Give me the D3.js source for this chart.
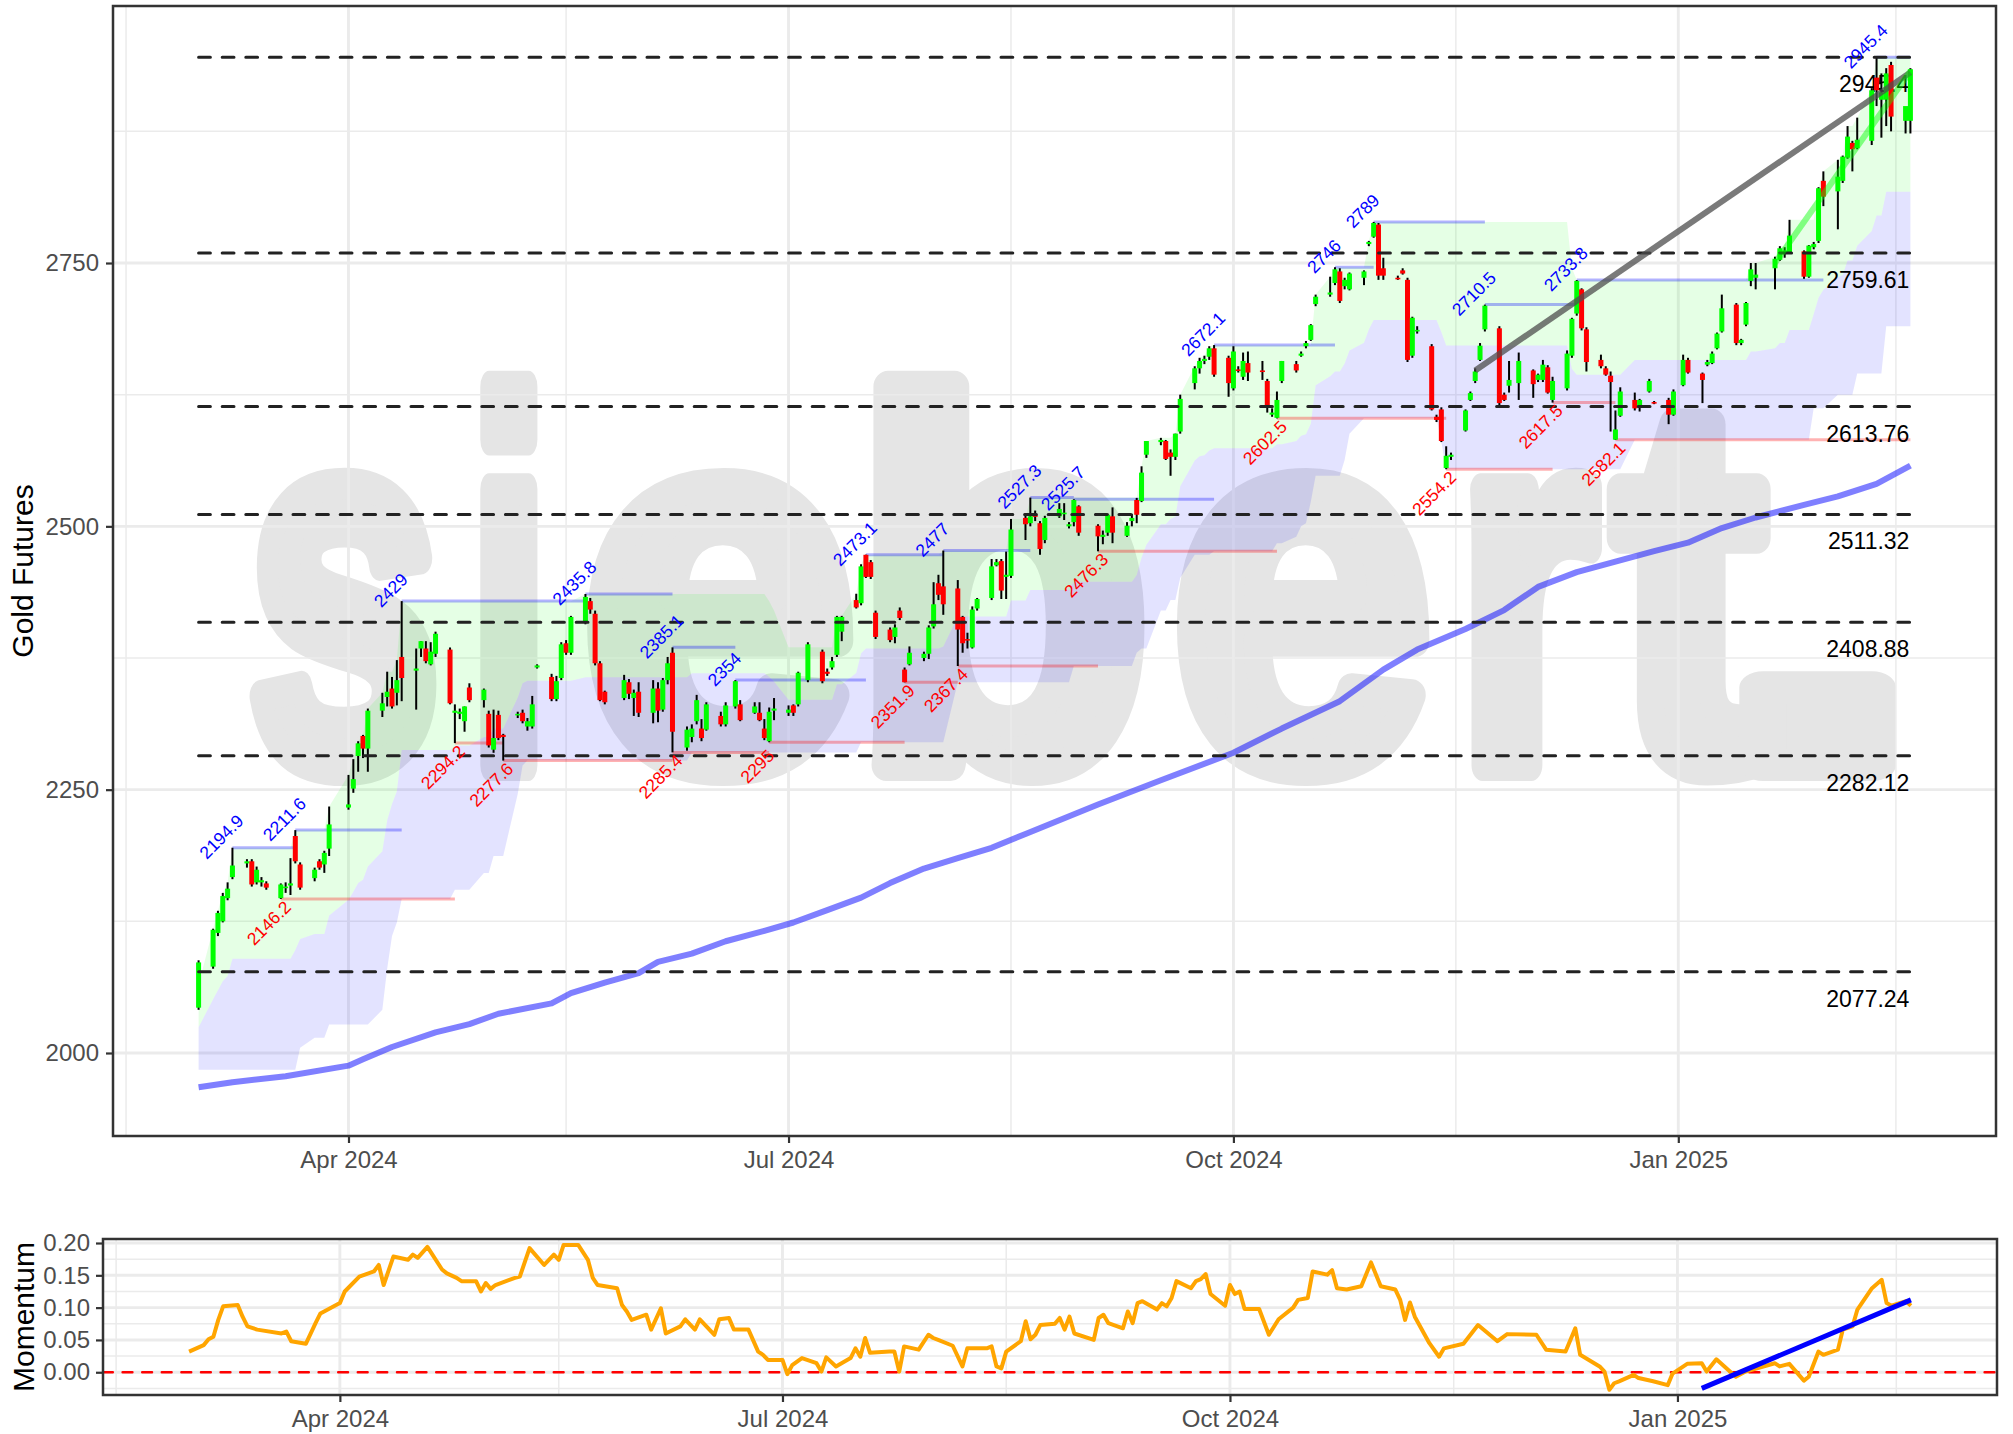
<!DOCTYPE html>
<html>
<head>
<meta charset="utf-8">
<script src="https://cdn.jsdelivr.net/npm/d3@7"></script>
<style>
  body { margin: 0; background: #ffffff; }
</style>
</head>
<body>
<svg id="chart"></svg>
<script>
// ---- candles (daily OHLC) ----
const dates = [
  '2024-03-01','2024-03-04','2024-03-05','2024-03-06','2024-03-07','2024-03-08','2024-03-11','2024-03-12','2024-03-13','2024-03-14','2024-03-15','2024-03-18','2024-03-19','2024-03-20','2024-03-21','2024-03-22','2024-03-25','2024-03-26','2024-03-27','2024-03-28',
  '2024-04-01','2024-04-02','2024-04-03','2024-04-04','2024-04-05','2024-04-08','2024-04-09','2024-04-10','2024-04-11','2024-04-12','2024-04-15','2024-04-16','2024-04-17','2024-04-18','2024-04-19','2024-04-22','2024-04-23','2024-04-24','2024-04-25','2024-04-26','2024-04-29','2024-04-30',
  '2024-05-01','2024-05-02','2024-05-03','2024-05-06','2024-05-07','2024-05-08','2024-05-09','2024-05-10','2024-05-13','2024-05-14','2024-05-15','2024-05-16','2024-05-17','2024-05-20','2024-05-21','2024-05-22','2024-05-23','2024-05-24','2024-05-28','2024-05-29','2024-05-30','2024-05-31',
  '2024-06-03','2024-06-04','2024-06-05','2024-06-06','2024-06-07','2024-06-10','2024-06-11','2024-06-12','2024-06-13','2024-06-14','2024-06-17','2024-06-18','2024-06-20','2024-06-21','2024-06-24','2024-06-25','2024-06-26','2024-06-27','2024-06-28',
  '2024-07-01','2024-07-02','2024-07-03','2024-07-05','2024-07-08','2024-07-09','2024-07-10','2024-07-11','2024-07-12','2024-07-15','2024-07-16','2024-07-17','2024-07-18','2024-07-19','2024-07-22','2024-07-23','2024-07-24','2024-07-25','2024-07-26','2024-07-29','2024-07-30','2024-07-31',
  '2024-08-01','2024-08-02','2024-08-05','2024-08-06','2024-08-07','2024-08-08','2024-08-09','2024-08-12','2024-08-13','2024-08-14','2024-08-15','2024-08-16','2024-08-19','2024-08-20','2024-08-21','2024-08-22','2024-08-23','2024-08-26','2024-08-27','2024-08-28','2024-08-29','2024-08-30',
  '2024-09-03','2024-09-04','2024-09-05','2024-09-06','2024-09-09','2024-09-10','2024-09-11','2024-09-12','2024-09-13','2024-09-16','2024-09-17','2024-09-18','2024-09-19','2024-09-20','2024-09-23','2024-09-24','2024-09-25','2024-09-26','2024-09-27','2024-09-30',
  '2024-10-01','2024-10-02','2024-10-03','2024-10-04','2024-10-07','2024-10-08','2024-10-09','2024-10-10','2024-10-11','2024-10-14','2024-10-15','2024-10-16','2024-10-17','2024-10-18','2024-10-21','2024-10-22','2024-10-23','2024-10-24','2024-10-25','2024-10-28','2024-10-29','2024-10-30','2024-10-31',
  '2024-11-01','2024-11-04','2024-11-05','2024-11-06','2024-11-07','2024-11-08','2024-11-11','2024-11-12','2024-11-13','2024-11-14','2024-11-15','2024-11-18','2024-11-19','2024-11-20','2024-11-21','2024-11-22','2024-11-25','2024-11-26','2024-11-27','2024-11-29',
  '2024-12-02','2024-12-03','2024-12-04','2024-12-05','2024-12-06','2024-12-09','2024-12-10','2024-12-11','2024-12-12','2024-12-13','2024-12-16','2024-12-17','2024-12-18','2024-12-19','2024-12-20','2024-12-23','2024-12-24','2024-12-26','2024-12-27','2024-12-30','2024-12-31',
  '2025-01-02','2025-01-03','2025-01-06','2025-01-07','2025-01-08','2025-01-09','2025-01-10','2025-01-13','2025-01-14','2025-01-15','2025-01-16','2025-01-17','2025-01-21','2025-01-22','2025-01-23','2025-01-24','2025-01-27','2025-01-28','2025-01-29','2025-01-30','2025-01-31',
  '2025-02-03','2025-02-04','2025-02-05','2025-02-06','2025-02-07','2025-02-10','2025-02-11','2025-02-12','2025-02-13','2025-02-14','2025-02-17','2025-02-18'
];
const opens = [
  2043,2082,2114,2125,2147,2167,2180,2182,2162,2162,2161,2147,2157,2159,2206,2179,2166,2182,2179,2194,
  2233,2251,2282,2301,2289,2325,2338,2346,2342,2376,2363,2384,2384,2369,2379,2383,2323,2322,2315,2347,2335,2322,
  2288,2321,2302,2321,2323,2310,2310,2366,2357,2336,2356,2389,2380,2410,2429,2417,2370,2343,2337,2352,2337,2343,
  2323,2346,2326,2354,2380,2290,2300,2315,2308,2307,2320,2312,2329,2331,2323,2323,2308,2296,2325,
  2323,2330,2331,2354,2381,2362,2366,2378,2400,2430,2427,2473,2466,2418,2402,2395,2420,2364,2369,2375,2379,2405,
  2446,2443,2441,2414,2393,2385,2422,2432,2463,2467,2452,2453,2508,2503,2511,2503,2487,2509.5,2512,2500,2504,2519,
  2500.6,2490,2494,2509.5,2491,2505,2525,2524,2568,2580,2581,2570,2566,2590,2636,2650,2657,2661,2669,2660,
  2631,2649,2642,2655,2648,2638,2606,2603,2638,2654,2662,2671,2677,2711,2720,2731,2742,2728,2725,2736,2768,2775,2786.5,
  2745,2736,2743,2734,2662,2686,2671,2604,2611,2555.3,2566,2591,2620,2638,2658,2687,2688,2625,2633.5,2636,
  2648,2639,2639,2651,2620,2631,2662,2702,2725,2687,2658,2650,2643,2582.3,2605,2620,2614,2628,2618,2620,2606,
  2634,2658,2645,2653.5,2655,2669,2685,2710.5,2674,2691.5,2733,2736,2745,2753,2760,2760,2761,2737,2765,2771,2828,
  2818,2828,2850,2864,2859,2866,2926,2905,2905,2938,2885,2885
];
const highs = [
  2088,2118,2135,2152,2162,2194.9,2184,2184,2177,2167,2163,2161,2162,2185,2211.6,2181,2176,2184,2192,2234,
  2264,2279,2296,2302,2327,2342,2362,2357,2373,2429,2384,2391,2391,2390,2400,2385,2331,2327,2329,2351,2346,2325,
  2326,2325,2303,2324,2326,2318,2339,2369,2360,2358,2390,2392,2415,2435.8,2432,2420,2372,2344,2359,2355,2345,2352,
  2354,2352,2356,2376,2385.1,2310,2312,2340,2317,2333,2324,2333,2354,2335,2333,2333,2317,2328,2337,
  2330,2331,2362,2390,2383,2365,2376,2415,2415,2436,2464,2473.1,2468,2420,2404,2407,2423,2366,2386,2381,2406,2447,
  2454,2477,2449,2415,2399,2424,2432,2469,2469,2469,2476,2507,2510,2527.3,2515,2505,2510,2522,2522,2504,2525.7,2520,
  2502,2496,2512,2518,2504,2512,2527,2557,2581,2584,2582,2573,2588,2625,2652,2660,2662,2671,2672.1,2662,
  2671,2652,2665,2666,2657,2640,2612,2628,2657,2657,2666,2676,2692,2720,2737,2746,2745,2736,2741,2743,2771,2789,2788,
  2755,2738,2745,2736,2699,2690,2673,2606,2613,2576,2570,2611,2628,2650,2674,2710.5,2690,2627,2657,2665,
  2649,2645,2658,2653,2642,2667,2698,2733.8,2726,2689,2663,2652,2647,2610,2632,2627,2621,2640,2619,2622,2630,
  2663,2660,2646,2658,2666,2684,2720,2712,2678,2713,2750,2750,2756,2766,2765,2791,2762,2767,2770,2822,2837,
  2848,2852,2880,2866,2888,2916,2945.4,2930,2935,2941,2896,2935
];
const lows = [
  2041,2080,2111,2124,2145,2165,2176,2158,2160,2158,2155,2146.2,2152,2150,2180,2155,2163,2174,2171,2187,
  2231,2247,2267,2280,2267,2319,2329,2327,2330,2334,2326,2376,2370,2368,2376,2331,2294.2,2317,2305,2333,2328,2290,
  2285,2297,2277.6,2318,2313,2306,2308,2365,2334,2334,2354,2378,2378,2407,2417,2368,2334,2331,2335,2336,2320,2319,
  2313,2314,2324,2350,2285.4,2287,2295,2312,2296,2306,2310,2310,2327,2315,2322,2315,2297,2295,2316,
  2320,2320,2329,2352,2351,2358,2364,2376,2391,2422,2425,2451,2450,2393,2390,2389,2411,2351.9,2368,2372,2374,2403,
  2430,2416,2367.4,2380,2384,2384,2420,2430,2462,2431,2431,2451,2487,2500,2505,2473,2484,2508,2506,2498,2500,2491,
  2476.3,2483,2491,2484,2490,2500,2503,2523,2565,2577,2563,2548,2563,2588,2630,2645,2654,2658,2642,2623,
  2629,2646,2639,2638,2639,2608,2604,2602.5,2636,2646,2661,2669,2676,2709,2718,2729,2712,2725,2724,2729,2766,2774,2734,
  2734,2734,2739,2656,2660,2683,2610,2599,2580,2554.2,2563,2590,2619,2636,2657,2685,2615,2619,2627,2620,
  2622,2637,2637,2626,2617.5,2629,2660,2700,2686,2647,2650,2643,2590,2582.1,2604,2610,2609,2627,2616,2597,2605,
  2633,2645,2617,2652,2654,2668,2684,2672,2672,2690,2728,2725,2725,2752,2755,2759,2735,2736,2763,2769,2804,
  2782,2826,2849,2837,2858,2862,2899,2869,2880,2875,2873,2873
];
const closes = [
  2086,2117,2133,2149,2156,2178,2182,2160,2174,2164,2157,2160,2158,2161,2182,2157,2174,2176,2190,2217,
  2236,2260,2294,2289,2325,2332,2343,2329,2354,2356,2365,2391,2372,2381,2398,2332,2325,2324,2329,2335,2345,2292,
  2299,2299,2300,2322,2315,2315,2331,2368,2336,2353,2388,2380,2414,2433,2421,2370,2335,2333,2354,2341,2342,2323,
  2346,2325,2354,2370,2305,2307,2308,2335,2299,2331,2312,2330,2353,2316,2329,2316,2299,2324,2327,
  2326,2323,2361,2388,2353,2360,2372,2414,2414,2423,2462,2452,2452,2395,2392,2404,2413,2352,2380,2379,2404,2426,
  2435,2426,2402,2389,2392,2421,2431,2462,2466,2439,2454,2497,2502,2509.5,2509,2478.5,2508,2516.5,2513,2502,2525,2494,
  2490.5,2492,2511,2494,2500.6,2508,2511,2551,2581,2582,2564,2566,2588,2621,2650,2657,2659,2669,2644,2636,
  2666,2648,2657,2646,2647,2614,2608,2620,2657,2648,2664,2674,2691,2718,2722,2744,2714,2734,2740,2742,2770,2788,2738,
  2738,2735,2740,2658,2698,2686.5,2611,2601,2581,2567,2568,2610,2626.5,2647,2671.5,2709.5,2617,2620,2639,2657,
  2635,2644,2653.5,2627,2638,2664,2697,2733,2688,2656,2652,2644,2637,2592,2628,2612,2620,2638,2617,2606,2628,
  2658,2646,2639,2656,2664,2683,2707,2674,2677,2712,2744,2739,2754,2764,2762,2776,2737,2766.5,2768,2821,2813,
  2832,2851,2870,2858,2867,2914,2914,2912,2930,2889,2899,2934
];

// ---- channel cloud (values hold from each date until the next one) ----
const cloudDates = ['2024-03-01','2024-03-04','2024-03-05','2024-03-06','2024-03-07','2024-03-08','2024-03-21','2024-03-22','2024-03-25','2024-03-28',
  '2024-04-01','2024-04-02','2024-04-03','2024-04-04','2024-04-05','2024-04-08','2024-04-09','2024-04-10','2024-04-11','2024-04-12',
  '2024-04-23','2024-04-29','2024-05-01','2024-05-06','2024-05-07','2024-05-08','2024-05-20','2024-06-11','2024-06-27','2024-06-28',
  '2024-07-01','2024-07-11','2024-07-15','2024-07-16','2024-07-17','2024-08-02','2024-08-05','2024-08-16','2024-08-20','2024-08-29',
  '2024-09-11','2024-09-12','2024-09-13','2024-09-16','2024-09-18','2024-09-19','2024-09-20','2024-09-23','2024-09-24','2024-09-25',
  '2024-09-26','2024-09-27','2024-10-10','2024-10-14','2024-10-15','2024-10-16','2024-10-17','2024-10-18','2024-10-21','2024-10-22',
  '2024-10-24','2024-10-25','2024-10-28','2024-10-29','2024-10-30','2024-11-13','2024-11-14','2024-12-10','2024-12-11','2024-12-23',
  '2025-01-16','2025-01-21','2025-01-22','2025-01-24','2025-01-29','2025-01-30','2025-01-31','2025-02-03','2025-02-04','2025-02-05',
  '2025-02-07','2025-02-10','2025-02-11','2025-02-13'];
const cloudHigh = [2065,2118,2135,2152,2162,2194.9,2211.6,2211.6,2211.6,2234,
  2264,2279,2296,2302,2327,2342,2362,2362,2373,2429,
  2429,2429,2429,2429,2429,2429,2435.8,2435.8,2429,2420,
  2385.1,2415,2436,2464,2473.1,2477,2477,2507,2527.3,2527.3,
  2527.3,2557,2581,2584,2584,2588,2625,2652,2660,2662,
  2671,2672.1,2672.1,2672.1,2672.1,2672.1,2672.1,2720,2737,2746,
  2746,2746,2746,2771,2789,2789,2789,2745,2733.8,2733.8,
  2750,2756,2766,2791,2791,2822,2837,2848,2852,2880,
  2888,2916,2945.4,2945.4];
const cloudMid = [2024.5,2051,2059.5,2068,2073,2089.5,2097.8,2108.3,2113,2130.5,
  2145.5,2153,2161.5,2164.5,2177,2191.5,2221,2236.5,2248.5,2287.6,
  2292,2300,2308,2337.5,2351,2353.3,2356.7,2360.6,2357.2,2352.7,
  2335.3,2350.2,2360.7,2379.5,2384.1,2386,2414.5,2429.5,2439.6,2447.4,
  2453.7,2470.5,2482.5,2502,2507,2509,2538,2562.5,2566.5,2567.5,
  2572,2574.2,2578,2581,2586,2587.5,2597.5,2634,2642.5,2647,
  2654.5,2667,2674.3,2686.8,2695.8,2684.5,2671.6,2649.6,2644,2658,
  2666,2669,2674,2686.5,2701.5,2717,2724.5,2736.5,2738.5,2752.5,
  2766.5,2780.5,2795.2,2817.7];
const cloudLow = [1984,1984,1984,1984,1984,1984,1984,2005,2014.4,2027,
  2027,2027,2027,2027,2027,2041,2080,2111,2124,2146.2,
  2155,2171,2187,2246,2273,2277.6,2277.6,2285.4,2285.4,2285.4,
  2285.4,2285.4,2285.4,2295,2295,2295,2351.9,2351.9,2351.9,2367.4,
  2380,2384,2384,2420,2430,2430,2451,2473,2473,2473,
  2473,2476.3,2484,2490,2500,2503,2523,2548,2548,2548,
  2563,2588,2602.5,2602.5,2602.5,2580,2554.2,2554.2,2554.2,2582.1,
  2582.1,2582.1,2582.1,2582.1,2612,2612,2612,2625,2625,2625,
  2645,2645,2645,2690];

// ---- long moving average ----
const maDates = ['2024-03-01','2024-03-08','2024-03-19','2024-04-01','2024-04-04','2024-04-10','2024-04-19','2024-04-26','2024-05-02','2024-05-13',
  '2024-05-17','2024-05-24','2024-05-31','2024-06-04','2024-06-11','2024-06-18','2024-06-26','2024-07-02','2024-07-09','2024-07-16',
  '2024-07-22','2024-07-29','2024-08-05','2024-08-12','2024-08-19','2024-09-03','2024-09-16','2024-10-01','2024-10-11','2024-10-23',
  '2024-11-01','2024-11-08','2024-11-18','2024-11-26','2024-12-03','2024-12-11','2024-12-19','2024-12-27','2025-01-03','2025-01-10',
  '2025-01-17','2025-01-27','2025-02-03','2025-02-11','2025-02-18'];
const maValues = [1967.5,1972.3,1978,1988,1994,2005.7,2019.5,2027.4,2037.3,2047.1,
  2056.9,2066.8,2075.8,2086.5,2094.3,2106.1,2116,2123.9,2135.7,2147.5,
  2161.3,2175.1,2184.9,2194.8,2208,2236,2259,2285,2308,2334,
  2364,2383,2402.5,2420.5,2442.5,2456.5,2466.5,2476.5,2484.5,2498.4,
  2508.4,2520.4,2528.4,2540.4,2557.6];

// ---- swing highs / lows ----
const peakDates = ['2024-03-08','2024-03-21','2024-04-12','2024-05-20','2024-06-07','2024-06-20','2024-07-17','2024-08-02','2024-08-20','2024-08-29','2024-09-27','2024-10-22','2024-10-30','2024-11-22','2024-12-11','2025-02-11'];
const peakEnds = ['2024-03-21','2024-04-12','2024-05-20','2024-06-07','2024-06-20','2024-07-17','2024-08-02','2024-08-20','2024-08-29','2024-09-27','2024-10-22','2024-10-30','2024-11-22','2024-12-11','2025-01-31','2025-02-18'];
const peakValues = [2194.9,2211.6,2429,2435.8,2385.1,2354,2473.1,2477,2527.3,2525.7,2672.1,2746,2789,2710.5,2733.8,2945.4];
const troughDates = ['2024-03-18','2024-04-23','2024-05-03','2024-06-07','2024-06-27','2024-07-25','2024-08-05','2024-09-03','2024-10-10','2024-11-14','2024-12-06','2024-12-19'];
const troughEnds = ['2024-04-23','2024-05-03','2024-06-07','2024-06-27','2024-07-25','2024-08-05','2024-09-03','2024-10-10','2024-11-14','2024-12-06','2024-12-19','2025-02-18'];
const troughValues = [2146.2,2294.2,2277.6,2285.4,2295,2351.9,2367.4,2476.3,2602.5,2554.2,2617.5,2582.1];

// ---- retracement levels and trend lines ----
const fibLevels = [2945.4, 2759.61, 2613.76, 2511.32, 2408.88, 2282.12, 2077.24];
const priceTrendDates = ['2024-11-20', '2025-02-18'];
const priceTrendValues = [2648, 2931];
const rallyTrendDates = ['2025-01-21', '2025-02-18'];
const rallyTrendValues = [2750, 2932];

// ---- momentum panel ----
const momentumDates = [
  '2024-03-01','2024-03-04','2024-03-05','2024-03-06','2024-03-07','2024-03-08','2024-03-11','2024-03-12','2024-03-13','2024-03-15','2024-03-20','2024-03-21','2024-03-22','2024-03-25','2024-03-27','2024-03-28',
  '2024-04-01','2024-04-02','2024-04-05','2024-04-08','2024-04-09','2024-04-10','2024-04-12','2024-04-15','2024-04-16','2024-04-17','2024-04-19','2024-04-22','2024-04-23','2024-04-25','2024-04-26','2024-04-29','2024-04-30',
  '2024-05-01','2024-05-02','2024-05-03','2024-05-07','2024-05-08','2024-05-10','2024-05-13','2024-05-15','2024-05-16','2024-05-17','2024-05-20','2024-05-22','2024-05-23','2024-05-24','2024-05-28','2024-05-29','2024-05-30','2024-05-31',
  '2024-06-03','2024-06-04','2024-06-06','2024-06-07','2024-06-10','2024-06-11','2024-06-13','2024-06-14','2024-06-17','2024-06-18','2024-06-20','2024-06-21','2024-06-24','2024-06-26','2024-06-27','2024-06-28',
  '2024-07-01','2024-07-02','2024-07-03','2024-07-05','2024-07-08','2024-07-09','2024-07-10','2024-07-12','2024-07-15','2024-07-16','2024-07-17','2024-07-18','2024-07-19','2024-07-23','2024-07-24','2024-07-25','2024-07-26','2024-07-29','2024-07-31',
  '2024-08-01','2024-08-02','2024-08-05','2024-08-07','2024-08-08','2024-08-12','2024-08-13','2024-08-14','2024-08-15','2024-08-16','2024-08-19','2024-08-20','2024-08-21','2024-08-22','2024-08-23','2024-08-26','2024-08-27','2024-08-28','2024-08-29','2024-08-30',
  '2024-09-03','2024-09-04','2024-09-05','2024-09-06','2024-09-09','2024-09-10','2024-09-11','2024-09-12','2024-09-13','2024-09-16','2024-09-17','2024-09-18','2024-09-19','2024-09-20','2024-09-23','2024-09-24','2024-09-25','2024-09-26','2024-09-27','2024-09-30',
  '2024-10-01','2024-10-02','2024-10-03','2024-10-04','2024-10-07','2024-10-09','2024-10-11','2024-10-14','2024-10-15','2024-10-17','2024-10-18','2024-10-21','2024-10-22','2024-10-23','2024-10-25','2024-10-28','2024-10-30',
  '2024-11-01','2024-11-04','2024-11-05','2024-11-06','2024-11-07','2024-11-08','2024-11-11','2024-11-13','2024-11-14','2024-11-18','2024-11-21','2024-11-25','2024-11-27',
  '2024-12-03','2024-12-05','2024-12-09','2024-12-11','2024-12-12','2024-12-16','2024-12-17','2024-12-18','2024-12-19','2024-12-20','2024-12-23','2024-12-24','2024-12-27','2024-12-30','2024-12-31',
  '2025-01-03','2025-01-06','2025-01-07','2025-01-09','2025-01-13','2025-01-15','2025-01-21','2025-01-22','2025-01-24','2025-01-27','2025-01-28','2025-01-30','2025-01-31',
  '2025-02-03','2025-02-04','2025-02-06','2025-02-07','2025-02-10','2025-02-12','2025-02-13','2025-02-14','2025-02-17','2025-02-18'
];
const momentumValues = [
  0.032,0.042,0.051,0.055,0.081,0.102,0.104,0.086,0.071,0.066,0.060,0.063,0.048,0.044,0.076,0.091,
  0.107,0.125,0.148,0.156,0.166,0.135,0.179,0.174,0.182,0.177,0.194,0.159,0.153,0.146,0.141,0.141,0.125,
  0.138,0.129,0.135,0.146,0.148,0.192,0.166,0.182,0.174,0.197,0.197,0.174,0.146,0.135,0.130,0.104,0.094,0.081,
  0.089,0.066,0.099,0.060,0.071,0.082,0.066,0.082,0.058,0.082,0.084,0.066,0.066,0.032,0.027,0.019,
  0.019,-0.003,0.011,0.022,0.014,0.001,0.023,0.009,0.022,0.037,0.024,0.053,0.030,0.032,0.032,0.001,0.040,0.035,0.058,
  0.053,0.050,0.041,0.009,0.037,0.037,0.040,0.009,0.006,0.032,0.048,0.079,0.051,0.058,0.073,0.075,0.084,0.066,0.086,0.060,
  0.050,0.084,0.089,0.076,0.068,0.094,0.076,0.107,0.110,0.097,0.107,0.102,0.115,0.141,0.130,0.141,0.144,0.152,0.121,0.103,
  0.135,0.121,0.125,0.098,0.098,0.058,0.082,0.100,0.112,0.115,0.156,0.151,0.158,0.130,0.128,0.133,0.170,
  0.133,0.128,0.112,0.081,0.108,0.086,0.045,0.024,0.037,0.044,0.073,0.048,0.059,
  0.058,0.035,0.032,0.068,0.027,0.009,0.001,-0.027,-0.017,-0.014,-0.004,-0.009,-0.014,-0.020,-0.002,
  0.013,0.014,0.001,0.020,-0.007,0.001,0.014,0.009,0.013,-0.013,-0.007,0.032,0.027,
  0.035,0.066,0.071,0.097,0.130,0.143,0.107,0.103,0.110,0.103
];
const momentumTrendDates = ['2025-01-06', '2025-02-18'];
const momentumTrendValues = [-0.025, 0.112];

// ---- axes ----
const priceDomain = [1921.2, 2994];
const priceTicks = [2000, 2250, 2500, 2750];
const priceMinorTicks = [2125, 2375, 2625, 2875];
const momentumDomain = [-0.0352, 0.2062];
const momentumTicks = [0, 0.05, 0.10, 0.15, 0.20];
const momentumMinorTicks = [-0.025, 0.025, 0.075, 0.125, 0.175];
const dateTicks = ['2024-04-01', '2024-07-01', '2024-10-01', '2025-01-01'];
const dateMinorTicks = ['2024-02-15', '2024-05-16', '2024-08-16', '2024-11-16', '2025-02-15'];

const FONT = '"Liberation Sans", Arial, Helvetica, sans-serif';

class GoldChart {
    constructor( config ) {
        this.config = {
            parent: config.parent,
            width: config.width || 2013,
            height: config.height || 1434,
            main: config.main || {left: 113, top: 6, width: 1883, height: 1130},
            lower: config.lower || {left: 103, top: 1239, width: 1894, height: 156},
            // watermark letters: [char, centre x, advance length]
            watermark: config.watermark || [
                ['s', 344, 192], ['i', 509, 80], ['e', 719, 272], ['b', 1002, 295],
                ['e', 1302, 258], ['r', 1527, 139], ['t', 1690, 150], ['.', 1818, 215]
            ],
        };
        this.init();
    }

    init() {
        let self = this;
        self.parse = d3.timeParse('%Y-%m-%d');
        self.svg = d3.select( self.config.parent )
            .attr('width', self.config.width)
            .attr('height', self.config.height);
        self.svg.append('rect')
            .attr('width', self.config.width)
            .attr('height', self.config.height)
            .attr('fill', '#ffffff');

        self.candles = dates.map( (d, i) => ({
            date: self.parse(d), open: opens[i], high: highs[i], low: lows[i], close: closes[i]
        }));

        // cloud: look up the step value in force on each trading day
        const cloudTimes = cloudDates.map( d => +self.parse(d) );
        self.cloud = self.candles.map( c => {
            const i = d3.bisectRight( cloudTimes, +c.date ) - 1;
            return { date: c.date, high: cloudHigh[i], mid: cloudMid[i], low: cloudLow[i] };
        });

        const first = self.candles[0].date;
        const last = self.candles[self.candles.length - 1].date;
        const pad = (last - first) * 0.05;
        const xdomain = [ new Date(+first - pad), new Date(+last + pad) ];

        const m = self.config.main, l = self.config.lower;
        self.xscale = d3.scaleTime().domain( xdomain ).range( [m.left, m.left + m.width] );
        self.yscale = d3.scaleLinear().domain( priceDomain ).range( [m.top + m.height, m.top] );
        self.x2scale = d3.scaleTime().domain( xdomain ).range( [l.left, l.left + l.width] );
        self.y2scale = d3.scaleLinear().domain( momentumDomain ).range( [l.top + l.height, l.top] );
        self.render();
    }

    grid( g, xs, ys, box, yMajor, yMinor ) {
        let self = this;
        const hline = (v, w) => g.append('line')
            .attr('x1', box.left).attr('x2', box.left + box.width)
            .attr('y1', ys(v)).attr('y2', ys(v))
            .attr('stroke', '#ebebeb').attr('stroke-width', w);
        const vline = (d, w) => g.append('line')
            .attr('x1', xs(d)).attr('x2', xs(d))
            .attr('y1', box.top).attr('y2', box.top + box.height)
            .attr('stroke', '#ebebeb').attr('stroke-width', w);
        yMinor.forEach( v => hline(v, 1.5) );
        dateMinorTicks.forEach( d => vline(self.parse(d), 1.5) );
        yMajor.forEach( v => hline(v, 2.9) );
        dateTicks.forEach( d => vline(self.parse(d), 2.9) );
    }

    styleAxis( g ) {
        g.attr('font-size', null).attr('font-family', null);
        g.select('.domain').remove();
        g.selectAll('line').attr('stroke', '#333333').attr('stroke-width', 2.2);
        g.selectAll('text')
            .attr('fill', '#4d4d4d')
            .attr('font-size', 24)
            .attr('font-family', FONT);
    }

    render() {
        let self = this;
        const m = self.config.main, l = self.config.lower;
        const xs = self.xscale, ys = self.yscale;

        // watermark (heavy grey word behind the plot)
        self.svg.append('g').selectAll('text')
            .data(self.config.watermark)
            .join('text')
            .attr('x', d => d[1]).attr('y', 765)
            .attr('text-anchor', 'middle')
            .attr('font-family', FONT)
            .attr('font-weight', 'bold')
            .attr('font-size', 522)
            .attr('textLength', d => d[2])
            .attr('lengthAdjust', 'spacingAndGlyphs')
            .attr('fill', '#e5e5e5')
            .attr('stroke', '#e5e5e5')
            .attr('stroke-width', 32)
            .attr('stroke-linejoin', 'round')
            .text( d => d[0] );

        const main = self.svg.append('g');
        self.grid( main, xs, ys, m, priceTicks, priceMinorTicks );

        // cloud ribbons
        const greenArea = d3.area().x( d => xs(d.date) ).y0( d => ys(d.mid) ).y1( d => ys(d.high) );
        const blueArea = d3.area().x( d => xs(d.date) ).y0( d => ys(d.low) ).y1( d => ys(d.mid) );
        main.append('path').datum(self.cloud).attr('d', greenArea)
            .attr('fill', '#00ff00').attr('fill-opacity', 0.1);
        main.append('path').datum(self.cloud).attr('d', blueArea)
            .attr('fill', '#0000ff').attr('fill-opacity', 0.11);

        // moving average
        const ma = maDates.map( (d, i) => ({ date: self.parse(d), value: maValues[i] }) );
        main.append('path').datum(ma)
            .attr('d', d3.line().x( d => xs(d.date) ).y( d => ys(d.value) ))
            .attr('fill', 'none').attr('stroke', '#0000ff').attr('stroke-opacity', 0.5)
            .attr('stroke-width', 6).attr('stroke-linejoin', 'round');

        // swing level lines
        const peaks = peakDates.map( (d, i) => ({ date: self.parse(d), end: self.parse(peakEnds[i]), value: peakValues[i] }) );
        const troughs = troughDates.map( (d, i) => ({ date: self.parse(d), end: self.parse(troughEnds[i]), value: troughValues[i] }) );
        main.selectAll('.peakline').data(peaks).join('line')
            .attr('x1', d => xs(d.date)).attr('x2', d => xs(d.end))
            .attr('y1', d => ys(d.value)).attr('y2', d => ys(d.value))
            .attr('stroke', '#0000ff').attr('stroke-opacity', 0.3).attr('stroke-width', 3);
        main.selectAll('.troughline').data(troughs).join('line')
            .attr('x1', d => xs(d.date)).attr('x2', d => xs(d.end))
            .attr('y1', d => ys(d.value)).attr('y2', d => ys(d.value))
            .attr('stroke', '#ff0000').attr('stroke-opacity', 0.3).attr('stroke-width', 3);

        // retracement level labels
        const lastDate = self.candles[self.candles.length - 1].date;
        const firstDate = self.candles[0].date;
        main.selectAll('.fiblabel').data(fibLevels).join('text')
            .attr('x', xs(lastDate) - 1)
            .attr('y', d => ys(d) + 35)
            .attr('text-anchor', 'end')
            .attr('font-family', FONT)
            .attr('font-size', 23)
            .attr('fill', '#000000')
            .text( d => d );

        // candles
        const bw = 5;
        main.selectAll('.wick').data(self.candles).join('line')
            .attr('x1', d => xs(d.date)).attr('x2', d => xs(d.date))
            .attr('y1', d => ys(d.high)).attr('y2', d => ys(d.low))
            .attr('stroke', '#000000').attr('stroke-width', 2);
        main.selectAll('.body').data(self.candles).join('rect')
            .attr('x', d => xs(d.date) - bw / 2)
            .attr('width', bw)
            .attr('y', d => ys( Math.max(d.open, d.close) ))
            .attr('height', d => Math.max( Math.abs( ys(d.open) - ys(d.close) ), 1.6 ))
            .attr('fill', d => d.close >= d.open ? '#00ff00' : '#ff0000');

        // retracement dashed lines
        main.selectAll('.fibline').data(fibLevels).join('line')
            .attr('x1', xs(firstDate)).attr('x2', xs(lastDate))
            .attr('y1', d => ys(d)).attr('y2', d => ys(d))
            .attr('stroke', '#222222').attr('stroke-width', 3)
            .attr('stroke-dasharray', '11.8 11.8').attr('stroke-linecap', 'round');

        // swing labels
        main.selectAll('.peaklabel').data(peaks).join('text')
            .attr('transform', d => `translate(${xs(d.date) - 11}, ${ys(d.value) - 11}) rotate(-45)`)
            .attr('text-anchor', 'middle').attr('dy', '0.35em')
            .attr('font-family', FONT).attr('font-size', 17.5)
            .attr('fill', '#0000ff')
            .text( d => d.value );
        main.selectAll('.troughlabel').data(troughs).join('text')
            .attr('transform', d => `translate(${xs(d.date) - 12}, ${ys(d.value) + 24}) rotate(-45)`)
            .attr('text-anchor', 'middle').attr('dy', '0.35em')
            .attr('font-family', FONT).attr('font-size', 17.5)
            .attr('fill', '#ff0000')
            .text( d => d.value );

        // trend lines
        const line = d3.line().x( d => xs(d.date) ).y( d => ys(d.value) );
        const priceTrend = priceTrendDates.map( (d, i) => ({ date: self.parse(d), value: priceTrendValues[i] }) );
        const rallyTrend = rallyTrendDates.map( (d, i) => ({ date: self.parse(d), value: rallyTrendValues[i] }) );
        main.append('path').datum(priceTrend).attr('d', line)
            .attr('stroke', '#4d4d4d').attr('stroke-opacity', 0.75).attr('stroke-width', 6).attr('fill', 'none');
        main.append('path').datum(rallyTrend).attr('d', line)
            .attr('stroke', '#00ff00').attr('stroke-opacity', 0.45).attr('stroke-width', 6).attr('fill', 'none');

        main.append('rect')
            .attr('x', m.left).attr('y', m.top).attr('width', m.width).attr('height', m.height)
            .attr('fill', 'none').attr('stroke', '#333333').attr('stroke-width', 2.5);

        self.svg.append('g')
            .attr('transform', `translate(${m.left}, 0)`)
            .call( d3.axisLeft(ys).tickValues(priceTicks).tickFormat(d3.format('d')).tickSize(7).tickPadding(7) )
            .call( g => self.styleAxis(g) );
        self.svg.append('g')
            .attr('transform', `translate(0, ${m.top + m.height})`)
            .call( d3.axisBottom(xs).tickValues(dateTicks.map(self.parse)).tickFormat(d3.timeFormat('%b %Y')).tickSize(7).tickPadding(8) )
            .call( g => self.styleAxis(g) );
        self.svg.append('text')
            .attr('transform', `translate(33, ${m.top + m.height / 2}) rotate(-90)`)
            .attr('text-anchor', 'middle')
            .attr('font-family', FONT).attr('font-size', 30).attr('fill', '#000000')
            .text('Gold Futures');

        // ---- momentum panel ----
        const xs2 = self.x2scale, ys2 = self.y2scale;
        const lower = self.svg.append('g');
        lower.append('rect')
            .attr('x', l.left).attr('y', l.top).attr('width', l.width).attr('height', l.height)
            .attr('fill', '#ffffff');
        self.grid( lower, xs2, ys2, l, momentumTicks, momentumMinorTicks );

        lower.append('line')
            .attr('x1', l.left).attr('x2', l.left + l.width)
            .attr('y1', ys2(0)).attr('y2', ys2(0))
            .attr('stroke', '#ff0000').attr('stroke-width', 2.5)
            .attr('stroke-dasharray', '9.8 9.8').attr('stroke-linecap', 'round');

        const mom = momentumDates.map( (d, i) => ({ date: self.parse(d), value: momentumValues[i] }) );
        const line2 = d3.line().x( d => xs2(d.date) ).y( d => ys2(d.value) );
        lower.append('path').datum(mom).attr('d', line2)
            .attr('fill', 'none').attr('stroke', '#ffa500').attr('stroke-width', 4)
            .attr('stroke-linejoin', 'round');
        const momTrend = momentumTrendDates.map( (d, i) => ({ date: self.parse(d), value: momentumTrendValues[i] }) );
        lower.append('path').datum(momTrend).attr('d', line2)
            .attr('fill', 'none').attr('stroke', '#0000ff').attr('stroke-width', 5);

        lower.append('rect')
            .attr('x', l.left).attr('y', l.top).attr('width', l.width).attr('height', l.height)
            .attr('fill', 'none').attr('stroke', '#333333').attr('stroke-width', 2.5);

        self.svg.append('g')
            .attr('transform', `translate(${l.left}, 0)`)
            .call( d3.axisLeft(ys2).tickValues(momentumTicks).tickFormat(d3.format('.2f')).tickSize(7).tickPadding(6) )
            .call( g => self.styleAxis(g) );
        self.svg.append('g')
            .attr('transform', `translate(0, ${l.top + l.height})`)
            .call( d3.axisBottom(xs2).tickValues(dateTicks.map(self.parse)).tickFormat(d3.timeFormat('%b %Y')).tickSize(7).tickPadding(8) )
            .call( g => self.styleAxis(g) );
        self.svg.append('text')
            .attr('transform', `translate(34, ${l.top + l.height / 2}) rotate(-90)`)
            .attr('text-anchor', 'middle')
            .attr('font-family', FONT).attr('font-size', 30).attr('fill', '#000000')
            .text('Momentum');
    }
}

new GoldChart({ parent: '#chart', width: 2013, height: 1434 });
</script>
</body>
</html>
